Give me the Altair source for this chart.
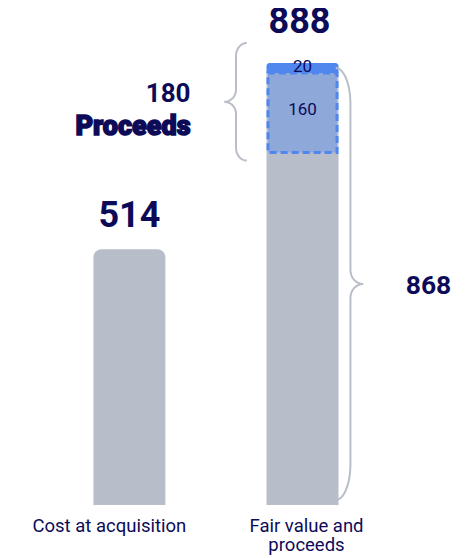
import math
import altair as alt
import pandas as pd

# ---------------- data ----------------
categories = ["Cost at acquisition", "Fair value and\nproceeds"]
cost_at_acquisition = 514
fair_value = 708
proceeds_parts = [160, 20]
proceeds_label = "Proceeds"

subtotal = fair_value + proceeds_parts[0]      # 868
total = subtotal + proceeds_parts[1]           # 888
proceeds_total = sum(proceeds_parts)           # 180

# ---------------- layout / style ----------------
W, H = 456, 550
ZERO_PX = 497.0
PX_PER_UNIT = 442.0 / 888.0
CENTER0 = 119.0
STEP = 177.0
BAR_PX = 72
GRAY = "#b8bec9"
BLUE = "#4f87ee"
BLUE_SOFT = "#8ea8da"
INK = "#0d0b58"
BRACE = "#b9bec8"
FONT = "Roboto"


def xv(px):
    return (px - CENTER0) / STEP


def yv(py):
    return (ZERO_PX - py) / PX_PER_UNIT


def xp(i):
    return CENTER0 + STEP * i


def yp(v):
    return ZERO_PX - v * PX_PER_UNIT


xscale = alt.Scale(domain=[xv(0), xv(W)], nice=False, zero=False)
yscale = alt.Scale(domain=[yv(H), yv(0)], nice=False, zero=False)


def X(f):
    return alt.X(f, type="quantitative", scale=xscale, axis=None)


def Y(f):
    return alt.Y(f, type="quantitative", scale=yscale, axis=None)


# ---------------- bars ----------------
bars = pd.DataFrame({
    "pos": [0, 1, 1],
    "lo": [0, 0, subtotal],
    "hi": [cost_at_acquisition, subtotal, total],
    "part": ["cost", "fair", "top"],
})
dashed = pd.DataFrame({"pos": [1], "lo": [fair_value], "hi": [subtotal]})

cost_bar = alt.Chart(bars).transform_filter(alt.datum.part == "cost").mark_bar(
    size=BAR_PX, color=GRAY, cornerRadiusTopLeft=8, cornerRadiusTopRight=8
).encode(x=X("pos"), y=Y("lo"), y2="hi")

fair_bar = alt.Chart(bars).transform_filter(alt.datum.part == "fair").mark_bar(
    size=BAR_PX, color=GRAY
).encode(x=X("pos"), y=Y("lo"), y2="hi")

top_bar = alt.Chart(bars).transform_filter(alt.datum.part == "top").mark_bar(
    size=BAR_PX, color=BLUE, cornerRadiusTopLeft=3, cornerRadiusTopRight=3
).encode(x=X("pos"), y=Y("lo"), y2="hi")

dash_box = alt.Chart(dashed).mark_bar(
    size=BAR_PX - 3, fill=BLUE_SOFT, stroke=BLUE, strokeWidth=3, strokeDash=[7, 4]
).encode(x=X("pos"), y=Y("lo"), y2="hi")


# ---------------- braces ----------------
def brace_points(name, xc, ytop, ybot, h, v, t, tv, s):
    pts = []
    ymid = (ytop + ybot) / 2

    def arc(cx, cy, rx, ry, a0, a1, n=12):
        for j in range(n + 1):
            a = math.radians(a0 + (a1 - a0) * j / n)
            pts.append((cx + rx * math.cos(a), cy + ry * math.sin(a)))

    arc(xc - h, ytop + v, h, v, -90, 0)
    arc(xc + t, ymid - tv, t, tv, 180, 90)
    arc(xc + t, ymid + tv, t, tv, 270, 180)
    arc(xc - h, ybot - v, h, v, 0, 90)
    rows = []
    for i, (px, py) in enumerate(pts):
        px = xc + s * (px - xc)
        rows.append({"brace": name, "i": i, "x": xv(px), "y": yv(py)})
    return rows


left_top = yp(total) - 20
left_bot = yp(fair_value) + 8
left_mid = (left_top + left_bot) / 2
brace_rows = brace_points("proceeds", xp(1) - 68, left_top, left_bot, 11, 13, 12, 12, -1)
brace_rows += brace_points("subtotal", xp(1) + 49, yp(subtotal) - 5, yp(0) - 5, 15, 36, 13, 14, 1)
braces = alt.Chart(pd.DataFrame(brace_rows)).mark_line(
    color=BRACE, strokeWidth=2
).encode(x=X("x"), y=Y("y"), detail="brace:N", order="i:Q")


# ---------------- texts ----------------
def txt(df, **kw):
    return alt.Chart(df).mark_text(font=FONT, color=INK, **kw).encode(
        x=X("x"), y=Y("y"), text="t:N")


t_514 = txt(pd.DataFrame({"x": [0], "y": [cost_at_acquisition], "t": [str(cost_at_acquisition)]}),
            fontSize=36, fontWeight="bold", baseline="alphabetic", dy=-22)
t_888 = txt(pd.DataFrame({"x": [1], "y": [total], "t": [str(total)]}),
            fontSize=36, fontWeight="bold", baseline="alphabetic", dx=-3, dy=-30)
t_20 = txt(pd.DataFrame({"x": [1], "y": [subtotal + proceeds_parts[1] / 2], "t": [str(proceeds_parts[1])]}),
           fontSize=17, baseline="middle", dy=-1)
t_160 = txt(pd.DataFrame({"x": [1], "y": [fair_value + proceeds_parts[0] / 2], "t": [str(proceeds_parts[0])]}),
            fontSize=17, baseline="middle", dy=-3)
t_180 = txt(pd.DataFrame({"x": [1], "y": [yv(left_mid)], "t": [str(proceeds_total)]}),
            fontSize=26, fontWeight="bold", baseline="alphabetic", align="right", dx=-112, dy=0)
t_proc = txt(pd.DataFrame({"x": [1], "y": [yv(left_mid)], "t": [proceeds_label]}),
             fontSize=27, fontWeight=900, baseline="alphabetic", align="right", dx=-112, dy=33,
             stroke=INK, strokeWidth=1.5)
t_868 = txt(pd.DataFrame({"x": [1], "y": [subtotal / 2], "t": [str(subtotal)]}),
            fontSize=26.5, fontWeight="bold", baseline="alphabetic", align="center", dx=126, dy=5)
cat0 = txt(pd.DataFrame({"x": [0], "y": [0], "t": [categories[0]]}),
           fontSize=18.5, baseline="alphabetic", align="center", dx=-20, dy=27, lineBreak="\n", lineHeight=19)
cat1 = txt(pd.DataFrame({"x": [1], "y": [0], "t": [categories[1]]}),
           fontSize=18.5, baseline="alphabetic", align="center", dx=4, dy=27, lineBreak="\n", lineHeight=19)

chart = alt.layer(
    cost_bar, fair_bar, top_bar, dash_box, braces,
    t_514, t_888, t_20, t_160, t_180, t_proc, t_868, cat0, cat1,
).properties(
    width=W, height=H, padding=0, autosize=alt.AutoSizeParams(type="none")
).configure_view(stroke=None)

chart.save("out.html", embed_options={"renderer": "svg", "actions": False})
